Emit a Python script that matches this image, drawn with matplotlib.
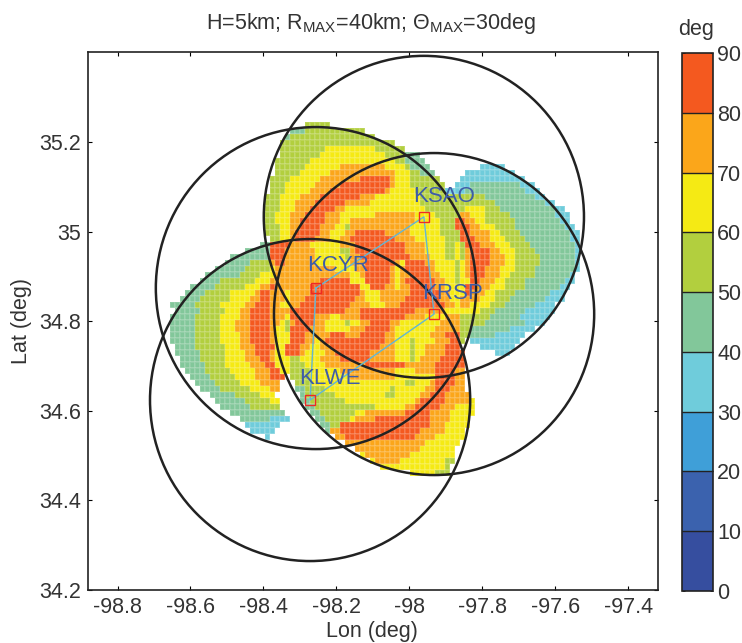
import numpy as np
import matplotlib
matplotlib.use('Agg')
import matplotlib.pyplot as plt
from matplotlib.colors import ListedColormap, BoundaryNorm
from matplotlib.patches import Ellipse

plt.rcParams['font.family'] = ['Liberation Sans', 'DejaVu Sans']
plt.rcParams['mathtext.fontset'] = 'custom'
plt.rcParams['mathtext.rm'] = 'Liberation Sans'
plt.rcParams['mathtext.it'] = 'Liberation Sans:italic'

# radar sites
radar_names = ['KSAO', 'KCYR', 'KRSP', 'KLWE']
radar_lon = [-97.96, -98.256, -97.932, -98.272]
radar_lat = [35.033, 34.874, 34.816, 34.624]
label_lon = [-97.99, -98.281, -97.965, -98.303]
label_lat = [35.079, 34.925, 34.863, 34.673]
# baselines between radars, drawn as one path
path_sites = ['KCYR', 'KSAO', 'KRSP', 'KLWE', 'KCYR']

# coverage ring radius in degrees (40 km)
ring_lon = 0.439
ring_lat = 0.3594

# grid of the angle field
grid_lon0 = -98.684
grid_dlon = 0.013717
grid_lat0 = 35.2446
grid_dlat = 0.013393
n_cols = 85

# angle band per cell, one row per lat from north to south
# "first column|band:end column ..." band 3 is 30-40 deg, band 0 is no data
angle_rows = [
    '29|5:34',
    '26|4:29 5:41',
    '25|4:26 5:43',
    '24|5:47',
    '24|5:33 6:43 5:49',
    '24|5:32 6:45 5:49 4:52',
    '23|5:30 6:47 5:49 4:53',
    '23|5:29 6:36 7:45 6:49 5:50 4:54 0:64 3:69',
    '23|5:28 6:34 7:47 6:50 5:52 4:55 0:61 3:71',
    '22|5:26 6:32 7:40 8:46 7:47 6:50 5:56 0:60 3:73',
    '22|5:25 6:31 7:36 8:46 7:47 6:50 5:57 0:59 3:62 4:72 3:75',
    '22|5:25 6:30 7:34 8:45 7:46 6:51 5:57 3:61 4:73 3:76',
    '21|5:24 6:28 7:32 8:40 7:43 6:52 5:65 4:75 3:77',
    '21|5:24 6:27 7:31 8:37 7:42 6:52 5:67 4:77 3:79',
    '21|5:24 6:27 7:30 8:35 7:37 6:53 5:61 6:65 5:68 4:79 3:81',
    '21|5:23 6:26 7:29 8:33 7:36 6:43 7:51 6:55 5:60 7:62 6:65 5:70 4:79 3:82',
    '21|5:23 6:26 7:28 8:33 7:36 6:38 7:51 6:56 5:59 8:61 7:63 6:65 5:71 4:80 3:82',
    '21|5:24 6:26 7:28 8:32 7:35 6:37 5:38 7:50 6:56 5:59 8:62 7:64 6:67 5:71 4:81 3:83',
    '21|5:24 6:26 7:27 8:32 7:34 6:37 7:39 8:45 7:50 6:56 5:60 8:62 7:66 6:68 5:72 4:82 3:84',
    '22|5:24 6:26 7:27 8:31 7:34 6:36 7:38 8:47 7:51 6:57 5:60 8:63 7:66 6:69 5:73 4:82 3:84',
    '20|4:22 8:26 7:30 6:36 7:39 8:49 7:53 6:57 5:59 6:60 5:61 8:64 7:67 6:70 5:74 4:83 3:84',
    '17|4:22 8:25 7:31 6:36 5:38 7:39 8:49 7:53 6:57 5:59 6:60 5:61 7:62 8:66 7:68 6:71 5:75 4:83 3:84',
    '14|4:22 8:25 7:31 6:37 5:38 7:40 8:50 7:54 6:57 5:59 6:60 5:61 7:62 8:66 7:69 6:71 5:76 4:83 3:84',
    '13|4:18 5:22 7:23 8:25 7:31 6:38 7:41 8:47 7:48 6:49 8:53 7:55 6:59 5:60 6:61 7:62 8:66 7:69 6:71 5:76 4:83 3:84',
    '11|4:17 5:22 6:23 7:35 6:39 7:41 8:46 7:47 6:48 7:49 8:54 7:55 6:59 5:60 6:61 7:62 8:65 7:68 6:71 5:75 4:83 3:84',
    '9|4:16 5:20 6:23 7:38 6:40 7:41 8:46 7:47 6:48 7:50 8:54 7:56 6:59 5:60 6:61 7:62 8:65 7:68 6:70 5:75 4:82 3:83',
    '8|4:12 5:19 6:22 7:32 8:38 6:41 8:46 7:47 6:48 7:49 8:55 7:57 6:59 5:60 6:62 8:64 7:67 6:69 5:73 4:81 3:83',
    '6|4:11 5:17 6:20 7:22 8:23 7:30 8:40 6:42 8:45 7:47 6:48 7:50 8:55 7:57 6:61 8:63 7:66 6:69 5:73 4:80 3:82',
    '5|4:9 5:14 6:19 7:20 8:22 7:25 6:26 7:30 8:40 7:41 6:44 7:50 8:56 7:58 6:61 8:62 7:65 6:67 5:71 4:78 3:81',
    '4|4:8 5:14 6:18 7:20 8:22 7:25 6:26 7:29 8:39 7:41 6:44 7:49 8:56 7:58 6:60 7:64 6:67 5:70 4:77 3:81',
    '2|4:7 5:12 6:17 7:19 8:22 7:24 6:26 7:28 8:38 7:42 6:45 7:48 8:57 7:59 6:60 7:62 6:66 5:69 4:75 3:79',
    '3|4:8 5:13 6:16 7:18 8:22 7:26 8:37 7:40 8:51 7:57 6:64 5:67 4:73 3:79',
    '2|4:7 5:12 6:16 7:18 8:22 7:25 6:26 8:31 7:34 6:36 7:40 8:49 7:53 6:57 7:60 5:66 4:72 3:78',
    '2|4:7 5:12 6:15 7:18 8:22 7:24 6:25 5:26 7:27 8:31 7:33 6:37 5:38 6:40 7:42 8:46 7:48 6:56 7:60 5:65 4:73 3:77',
    '2|4:7 5:12 6:15 7:18 8:22 7:23 6:25 5:26 8:30 7:33 6:38 7:41 8:46 7:47 6:55 7:60 5:62 4:70 3:75',
    '2|4:7 5:12 6:16 7:18 8:22 7:23 6:26 8:29 7:34 8:37 7:40 8:45 7:47 6:54 7:57 8:60 5:62 4:67 3:73',
    '2|4:7 5:12 6:16 7:18 8:22 7:23 6:26 8:29 7:31 6:32 7:33 8:45 7:47 6:50 5:51 6:55 7:58 8:60 5:61 0:62 3:72',
    '3|4:7 5:13 6:16 7:19 8:23 6:25 8:28 7:30 6:32 7:34 8:44 7:47 6:50 5:51 6:53 7:57 8:60 0:64 3:71',
    '3|4:8 5:13 6:17 7:19 8:22 7:23 6:25 8:28 7:29 6:33 7:35 8:42 7:47 6:50 5:51 6:53 7:57 8:61 0:67 3:70',
    '4|4:8 5:13 6:17 7:20 8:22 7:23 6:26 5:28 6:32 7:36 8:42 7:47 6:50 5:51 6:52 7:56 8:61',
    '4|4:9 5:13 6:18 7:21 8:23 6:26 5:29 6:33 7:41 8:49 7:55 8:61',
    '5|4:9 5:14 6:19 7:22 8:24 6:26 5:30 6:36 7:47 6:51 7:55 8:59 7:61',
    '6|4:10 5:15 6:19 7:22 8:25 0:26 5:30 6:38 7:47 6:55 8:59 7:61',
    '7|4:11 5:16 6:20 7:24 0:27 5:30 6:49 5:51 6:54 7:55 8:59 7:61',
    '8|4:12 5:18 6:22 7:24 0:27 4:29 5:33 6:46 5:47 6:53 7:55 8:58 7:61',
    '10|4:15 5:20 6:23 0:28 4:29 5:35 6:45 5:47 6:52 7:54 8:57 7:62',
    '11|4:17 5:22 6:24 0:28 4:30 5:37 6:51 7:52 8:57 7:62 6:63',
    '12|4:18 5:24 0:29 4:31 5:43 6:49 7:51 8:56 7:59 6:63',
    '14|4:25 0:30 4:32 5:39 6:41 7:49 8:54 7:58 6:63',
    '16|4:22 3:26 0:31 4:33 5:38 6:39 7:43 8:54 7:58 6:62',
    '17|3:24 0:32 4:34 5:36 8:54 7:57 6:62',
    '18|3:23 0:33 4:34 7:36 8:52 7:57 6:61',
    '21|3:22 0:35 7:37 8:51 7:55 6:61',
    '37|7:53 6:60',
    '39|7:52 6:59',
    '40|6:41 7:50 6:59',
    '42|6:43 7:48 6:57 5:59',
    '44|6:57 5:58',
    '50|6:55 5:58',
]

band_colors = ['#364E9F', '#3B62AE', '#3F9FD8', '#6FCCDB', '#82C79A',
               '#B2CF3E', '#F5EA14', '#FBA61A', '#F4591F']
band_levels = [0, 10, 20, 30, 40, 50, 60, 70, 80, 90]

x_ticks = [-98.8, -98.6, -98.4, -98.2, -98, -97.8, -97.6, -97.4]
x_labels = ['-98.8', '-98.6', '-98.4', '-98.2', '-98', '-97.8', '-97.6', '-97.4']
y_ticks = [34.2, 34.4, 34.6, 34.8, 35, 35.2]
y_labels = ['34.2', '34.4', '34.6', '34.8', '35', '35.2']

text_color = '#333333'


def decode_rows(rows):
    # turn the band runs into an angle array, NaN where there is no data
    angle = np.full((len(rows), n_cols), np.nan)
    for i, row in enumerate(rows):
        start, runs = row.split('|')
        col = int(start)
        for run in runs.split():
            band, end = run.split(':')
            if band != '0':
                angle[i, col:int(end)] = int(band) * 10 + 5
            col = int(end)
    return angle


angle = decode_rows(angle_rows)
lon_edges = grid_lon0 + grid_dlon * np.arange(n_cols + 1)
lat_edges = grid_lat0 - grid_dlat * np.arange(len(angle_rows) + 1)

W, H = 742, 643
fig = plt.figure(figsize=(W / 100, H / 100), dpi=100)
ax = fig.add_axes([88 / W, 1 - 590 / H, 570 / W, 538 / H])

cmap = ListedColormap(band_colors)
norm = BoundaryNorm(band_levels, cmap.N)
mesh = ax.pcolormesh(lon_edges, lat_edges, np.ma.masked_invalid(angle), cmap=cmap, norm=norm,
                     edgecolors=(1, 1, 1, 0.12), linewidth=0.3)

# coverage rings
for lon, lat in zip(radar_lon, radar_lat):
    ax.add_patch(Ellipse((lon, lat), 2 * ring_lon, 2 * ring_lat, fill=False,
                         edgecolor='#222222', linewidth=1.8, zorder=3))

# baselines and sites
path_lon = [radar_lon[radar_names.index(s)] for s in path_sites]
path_lat = [radar_lat[radar_names.index(s)] for s in path_sites]
ax.plot(path_lon, path_lat, color='#62B6D4', linewidth=1.0, zorder=4)
ax.plot(radar_lon, radar_lat, 's', markersize=7, markerfacecolor='none',
        markeredgecolor='#EE2A24', markeredgewidth=1.0, zorder=5)
for name, lon, lat in zip(radar_names, label_lon, label_lat):
    ax.text(lon, lat, name, color='#3E5CA8', fontsize=16, ha='left', va='center', zorder=6)

ax.set_xlim(-98.881, -97.318)
ax.set_ylim(34.2, 35.401)
ax.set_xticks(x_ticks)
ax.set_xticklabels(x_labels)
ax.set_yticks(y_ticks)
ax.set_yticklabels(y_labels)
ax.tick_params(direction='in', length=3, width=0.8, top=True, right=True,
               labelsize=15.5, labelcolor=text_color, pad=5)
for spine in ax.spines.values():
    spine.set_linewidth(1.2)
    spine.set_color('#222222')

fig.text(371 / W, 1 - 24 / H, r'H=5km; R$_{\mathrm{MAX}}$=40km; $\mathrm{\Theta}_{\mathrm{MAX}}$=30deg',
         fontsize=15.5, color=text_color, ha='center', va='center')
fig.text(372 / W, 1 - 631 / H, 'Lon (deg)', fontsize=15.5, color=text_color, ha='center', va='center')
fig.text(22 / W, 1 - 321 / H, 'Lat (deg)', fontsize=15.5, color=text_color, ha='center', va='center',
         rotation=90)

# colour bar
cax = fig.add_axes([682 / W, 1 - 591 / H, 31 / W, 538 / H])
cb = fig.colorbar(mesh, cax=cax, ticks=band_levels, drawedges=True)
cb.dividers.set_color('#222222')
cb.dividers.set_linewidth(1.0)
cb.outline.set_edgecolor('#222222')
cb.outline.set_linewidth(1.2)
cax.tick_params(direction='in', length=2, width=0.6, left=True, right=True,
                labelsize=15.5, labelcolor=text_color, pad=3)
fig.text(696 / W, 1 - 30 / H, 'deg', fontsize=15.5, color=text_color, ha='center', va='center')

fig.savefig('out.png', dpi=100)
